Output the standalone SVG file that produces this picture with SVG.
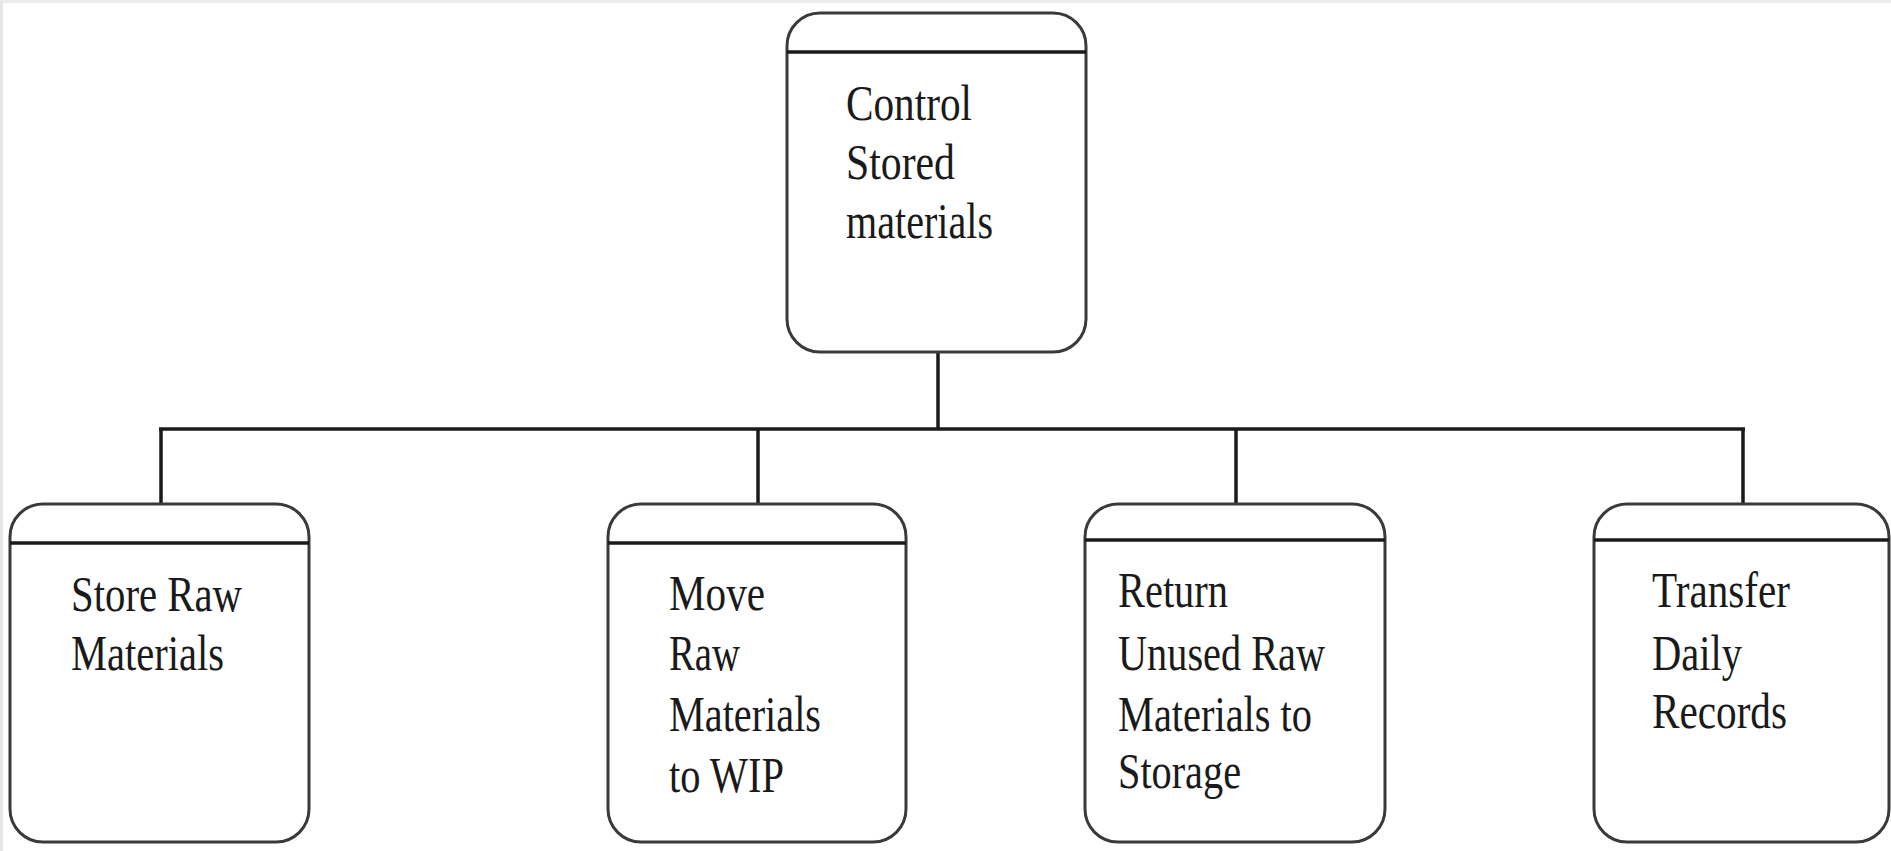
<svg xmlns="http://www.w3.org/2000/svg" width="1891" height="851" viewBox="0 0 1891 851">
  <style>
    .box { fill: #ffffff; stroke: #3a3a3a; stroke-width: 3; }
    .head { stroke: #1a1a1a; stroke-width: 3.5; }
    .link { fill: none; stroke: #1a1a1a; stroke-width: 3.5; }
    .label { font-family: "Liberation Serif", "Times New Roman", serif; font-size: 50px; fill: #1a1a1a; }
  </style>
  <rect x="0" y="0" width="1891" height="851" fill="#ffffff"/>
  <rect x="0" y="0" width="1891" height="3" fill="#ececec"/>
  <rect x="0" y="0" width="3" height="851" fill="#e6e6e6"/>

  <g id="connectors">
    <line class="link" x1="938" y1="352" x2="938" y2="429"/>
    <line class="link" x1="159" y1="429" x2="1745" y2="429"/>
    <line class="link" x1="161" y1="429" x2="161" y2="504"/>
    <line class="link" x1="758" y1="429" x2="758" y2="504"/>
    <line class="link" x1="1236" y1="429" x2="1236" y2="504"/>
    <line class="link" x1="1743" y1="429" x2="1743" y2="504"/>
  </g>

  <g id="node-control">
    <rect class="box" x="787" y="13" width="299" height="339" rx="33" ry="33"/>
    <line class="head" x1="787" y1="52" x2="1086" y2="52"/>
    <text class="label" x="846" y="120" textLength="126" lengthAdjust="spacingAndGlyphs">Control</text>
    <text class="label" x="846" y="179" textLength="109" lengthAdjust="spacingAndGlyphs">Stored</text>
    <text class="label" x="846" y="238" textLength="147" lengthAdjust="spacingAndGlyphs">materials</text>
  </g>

  <g id="node-store">
    <rect class="box" x="10" y="504" width="299" height="338" rx="33" ry="33"/>
    <line class="head" x1="10" y1="543" x2="309" y2="543"/>
    <text class="label" x="71" y="611" textLength="171" lengthAdjust="spacingAndGlyphs">Store Raw</text>
    <text class="label" x="71" y="670" textLength="153" lengthAdjust="spacingAndGlyphs">Materials</text>
  </g>

  <g id="node-move">
    <rect class="box" x="608" y="504" width="298" height="338" rx="33" ry="33"/>
    <line class="head" x1="608" y1="543" x2="906" y2="543"/>
    <text class="label" x="669" y="610" textLength="96" lengthAdjust="spacingAndGlyphs">Move</text>
    <text class="label" x="669" y="670" textLength="71" lengthAdjust="spacingAndGlyphs">Raw</text>
    <text class="label" x="669" y="731" textLength="152" lengthAdjust="spacingAndGlyphs">Materials</text>
    <text class="label" x="669" y="792" textLength="115" lengthAdjust="spacingAndGlyphs">to WIP</text>
  </g>

  <g id="node-return">
    <rect class="box" x="1085" y="504" width="300" height="338" rx="33" ry="33"/>
    <line class="head" x1="1085" y1="540" x2="1385" y2="540"/>
    <text class="label" x="1118" y="607" textLength="110" lengthAdjust="spacingAndGlyphs">Return</text>
    <text class="label" x="1118" y="670" textLength="207" lengthAdjust="spacingAndGlyphs">Unused Raw</text>
    <text class="label" x="1118" y="731" textLength="194" lengthAdjust="spacingAndGlyphs">Materials to</text>
    <text class="label" x="1118" y="788" textLength="123" lengthAdjust="spacingAndGlyphs">Storage</text>
  </g>

  <g id="node-transfer">
    <rect class="box" x="1594" y="504" width="295" height="338" rx="33" ry="33"/>
    <line class="head" x1="1594" y1="540" x2="1889" y2="540"/>
    <text class="label" x="1652" y="607" textLength="138" lengthAdjust="spacingAndGlyphs">Transfer</text>
    <text class="label" x="1652" y="670" textLength="90" lengthAdjust="spacingAndGlyphs">Daily</text>
    <text class="label" x="1652" y="728" textLength="135" lengthAdjust="spacingAndGlyphs">Records</text>
  </g>
</svg>
